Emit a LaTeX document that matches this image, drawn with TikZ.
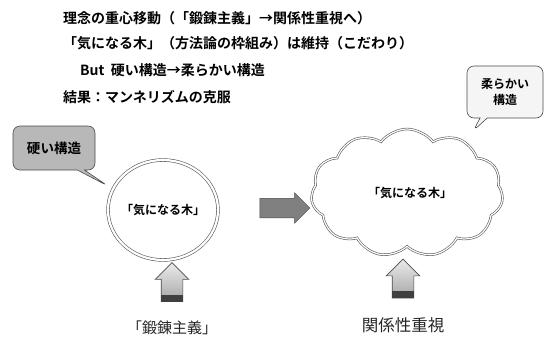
\documentclass[tikz,border=0pt]{standalone}
\usepackage{fontspec}
\setmainfont{Noto Sans CJK JP}[BoldFont={Noto Sans CJK JP Bold}]
\usetikzlibrary{shapes.geometric,shapes.symbols,shapes.callouts,shapes.arrows,calc}
\tikzset{
  headline/.style={anchor=west, font=\bfseries\fontsize{14}{16}\selectfont, inner sep=0pt},
  treetext/.style={font=\bfseries\fontsize{12}{14}\selectfont},
  bottomlabel/.style={font=\fontsize{15}{17}\selectfont, text=black!85},
  bubble/.style={rectangle callout, rounded corners=7pt, draw=black!70, line width=0.6pt,
     font=\bfseries\fontsize{11.5}{15}\selectfont, align=center},
  uparrow/.style={single arrow, shape border rotate=90, draw=black!70, line width=0.6pt,
     inner sep=10.5pt, minimum height=39pt, minimum width=33pt, single arrow head extend=6pt,
     top color=black!8, bottom color=black!35},
  rightarrow/.style={single arrow, draw=black!70, line width=0.5pt, fill=black!50,
     inner sep=9.5pt, minimum height=50pt, minimum width=30pt, single arrow head extend=5.5pt},
}
\begin{document}
\begin{tikzpicture}[x=1pt,y=-1pt]
\useasboundingbox (0,0) rectangle (551,338);
\fill[white] (0,0) rectangle (551,338);
% headlines
\node[headline] (l1) at (63,18) {理念の重心移動（「鍛錬主義」→関係性重視へ）};
\node[headline] (l2) at (63,43) {「気になる木」（方法論の枠組み）は維持（こだわり）};
\node[headline] (l3) at (80,70) {But\ \ 硬い構造→柔らかい構造};
\node[headline] (l4) at (63,97) {結果：マンネリズムの克服};
% left: circle
\node[ellipse, draw=black!65, line width=0.6pt, double=white, double distance=2.2pt,
      minimum width=110pt, minimum height=100pt] (circ) at (163,210) {};
\node[treetext] (t1) at (163,210) {「気になる木」};
% right: cloud
\node[cloud, cloud puffs=11, cloud puff arc=105, aspect=1.6, draw=black!65, line width=0.6pt,
      double=white, double distance=1.2pt,
      minimum width=192pt, minimum height=128pt] (cloud) at (407,193) {};
\node[treetext] (t2) at (410,193) {「気になる木」};
% middle arrow
\node[rightarrow] (mid) at (280,208) {};
% bubbles
\node[bubble, fill=black!28, minimum width=82pt, minimum height=44pt,
      font=\bfseries\fontsize{13.5}{15}\selectfont,
      callout absolute pointer={(108,186)}] (b1) at (54,148) {硬い構造};
\node[bubble, fill=black!4, minimum width=76pt, minimum height=52pt,
      font=\bfseries\fontsize{12}{16}\selectfont,
      callout absolute pointer={(473,131)}] (b2) at (505,92) {柔らかい\\構造};
% up arrows
\node[uparrow] (ua1) at (172,287.5) {};
\fill[black!75] (ua1.before tail) rectangle ($(ua1.after tail)+(0,-7)$);
\node[uparrow] (ua2) at (403,284) {};
\fill[black!75] (ua2.before tail) rectangle ($(ua2.after tail)+(0,-7)$);
% bottom labels
\node[bottomlabel] (lab1) at (172,328) {「鍛錬主義」};
\node[bottomlabel, font=\fontsize{16.5}{18}\selectfont] (lab2) at (403,325) {関係性重視};
\end{tikzpicture}
\end{document}
